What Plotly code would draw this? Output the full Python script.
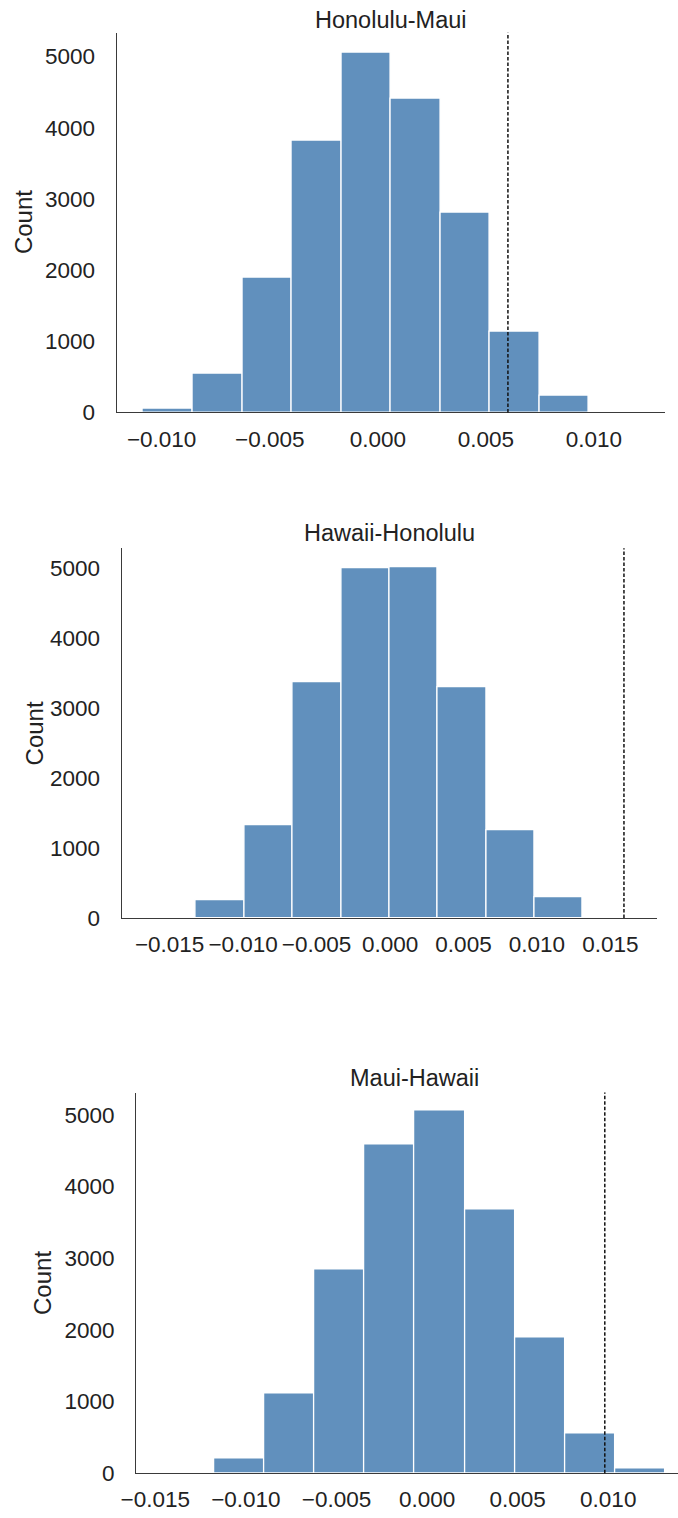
import plotly.graph_objects as go

# Permutation-test histograms of differences between island pairs
titles = ["Honolulu-Maui", "Hawaii-Honolulu", "Maui-Hawaii"]

# Histogram bins: left edge of first bin and common bin width
hm_bin_start, hm_bin_width = -0.01086, 0.002293
hh_bin_start, hh_bin_width = -0.0165, 0.003293
mh_bin_start, mh_bin_width = -0.01453, 0.00277

# Counts per bin
hm_counts = [47, 549, 1888, 3819, 5058, 4412, 2805, 1130, 237, 2]
hh_counts = [6, 259, 1324, 3362, 5000, 5012, 3291, 1257, 298, 4]
mh_counts = [2, 207, 1106, 2843, 4585, 5055, 3677, 1889, 553, 69]

# Observed differences (dashed reference lines)
observed = [0.00602, 0.01592, 0.00981]

# Tick labels
hm_xticks = [-0.010, -0.005, 0.000, 0.005, 0.010]
hh_xticks = [-0.015, -0.010, -0.005, 0.000, 0.005, 0.010, 0.015]
mh_xticks = [-0.015, -0.010, -0.005, 0.000, 0.005, 0.010]
yticks = [0, 1000, 2000, 3000, 4000, 5000]

W, H = 678, 1518
BAR = "rgb(97,144,189)"
TXT = "#222222"
AX = "#3a3a3a"
FONT = "Liberation Sans, Arial, sans-serif"

panels = [
    dict(start=hm_bin_start, width=hm_bin_width, counts=hm_counts, xt=hm_xticks,
         px=(104, 665), py=(33, 416), xr=(-0.01208, 0.0133), yr=5334,
         title_xy=(385, 20), count_x=22),
    dict(start=hh_bin_start, width=hh_bin_width, counts=hh_counts, xt=hh_xticks,
         px=(109, 657), py=(553, 926), xr=(-0.01827, 0.0182), yr=5283,
         title_xy=(383, 538), count_x=33),
    dict(start=mh_bin_start, width=mh_bin_width, counts=mh_counts, xt=mh_xticks,
         px=(124, 678), py=(1102, 1486), xr=(-0.01605, 0.01385), yr=5311,
         title_xy=(409, 1087), count_x=42),
]


def fmt(v):
    s = f"{abs(v):.3f}"
    return ("\u2212" + s) if v < 0 else s


fig = go.Figure()
annotations = []
shapes = []
layout_axes = {}

for i, p in enumerate(panels):
    n = i + 1
    xa = "x" if n == 1 else f"x{n}"
    ya = "y" if n == 1 else f"y{n}"
    centers = [p["start"] + (k + 0.5) * p["width"] for k in range(len(p["counts"]))]
    fig.add_trace(go.Bar(
        x=centers, y=p["counts"], width=[p["width"]] * len(centers),
        marker=dict(color=BAR, line=dict(color="white", width=1.3)),
        xaxis=xa, yaxis=ya, showlegend=False,
    ))

    x0, x1 = p["px"]
    y0, y1 = p["py"]
    layout_axes[f"xaxis{'' if n == 1 else n}"] = dict(
        domain=[x0 / W, x1 / W], range=list(p["xr"]), anchor=ya,
        tickvals=p["xt"], ticktext=[fmt(v) for v in p["xt"]],
        showgrid=False, zeroline=False, showline=True, linecolor=AX, linewidth=1.3,
        ticks="outside", ticklen=6, tickcolor="rgba(0,0,0,0)",
        tickfont=dict(family=FONT, size=22.5, color=TXT),
    )
    layout_axes[f"yaxis{'' if n == 1 else n}"] = dict(
        domain=[1 - y1 / H, 1 - y0 / H], range=[0, p["yr"]], anchor=xa,
        tickvals=yticks, ticktext=[str(v) for v in yticks],
        showgrid=False, zeroline=False, showline=True, linecolor=AX, linewidth=1.3,
        ticks="outside", ticklen=16, tickcolor="rgba(0,0,0,0)",
        tickfont=dict(family=FONT, size=22.5, color=TXT),
    )

    shapes.append(dict(
        type="line", xref=xa, yref=f"{ya} domain",
        x0=observed[i], x1=observed[i], y0=0, y1=1,
        line=dict(color="#111111", width=1.5, dash="3.5px,2px"),
    ))

    tx, ty = p["title_xy"]
    annotations.append(dict(
        text=titles[i], xref="paper", yref="paper", x=tx / W, y=1 - ty / H,
        xanchor="center", yanchor="middle", showarrow=False,
        font=dict(family=FONT, size=23.5, color=TXT),
    ))
    # Rotated y-axis label placed by pixel position of its centre
    annotations.append(dict(
        text="Count", xref="paper", yref="paper", x=p["count_x"] / W,
        y=1 - (y0 + y1) / 2 / H, xanchor="center", yanchor="middle",
        xshift=-13, textangle=-90, showarrow=False,
        font=dict(family=FONT, size=24, color=TXT),
    ))

fig.update_layout(
    width=W, height=H, margin=dict(l=0, r=0, t=0, b=0),
    paper_bgcolor="white", plot_bgcolor="white",
    bargap=0, annotations=annotations, shapes=shapes,
    **layout_axes,
)

fig.write_html("out.html")
